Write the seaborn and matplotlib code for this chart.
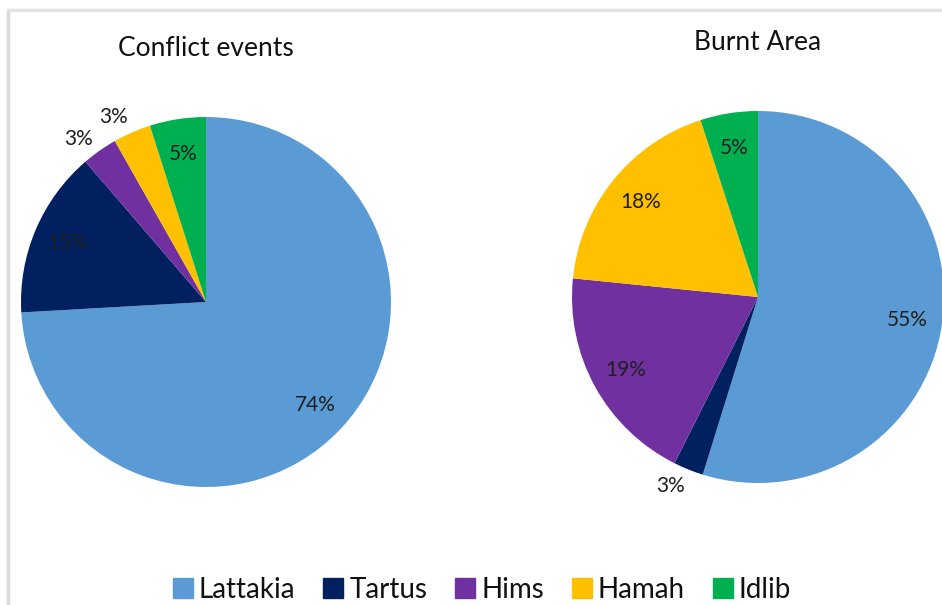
import numpy as np
import matplotlib
matplotlib.use("Agg")
import matplotlib.pyplot as plt
import seaborn as sns
from matplotlib.patches import Patch
from matplotlib.lines import Line2D

categories = ["Lattakia", "Tartus", "Hims", "Hamah", "Idlib"]
conflict_values = [74.1, 14.6, 3.1, 3.3, 4.9]
burnt_values = [54.8, 2.6, 19.2, 18.4, 5.0]
colors = ["#5B9BD5", "#002060", "#7030A0", "#FFC000", "#00B050"]
titles = ["Conflict events", "Burnt Area"]

sns.set_theme(style="white")
plt.rcParams['font.family'] = ['Lato', 'DejaVu Sans']

W, H = 942, 605
fig = plt.figure(figsize=(W / 100, H / 100), dpi=100)
fig.patch.set_facecolor("white")

# faint outer frame
fig.add_artist(Line2D([8 / W, 8 / W], [0, 1 - 10 / H], transform=fig.transFigure, color="#d9d9d9", lw=2.5))
fig.add_artist(Line2D([8 / W, 1], [1 - 10 / H, 1 - 10 / H], transform=fig.transFigure, color="#e3e3e3", lw=2.5))


def make_pie(cx, cy, r, values, title, tx, ty, out_shift):
    ax = fig.add_axes([(cx - r) / W, (H - cy - r) / H, 2 * r / W, 2 * r / H])
    wedges, texts, autotexts = ax.pie(values, colors=colors, startangle=90, counterclock=False,
                                      radius=1, autopct="%.0f%%", pctdistance=0.81,
                                      textprops=dict(fontsize=15, color="#1f1f1f"),
                                      wedgeprops=dict(linewidth=0))
    total = sum(values)
    cum = 0
    for v, t in zip(values, autotexts):
        mid = (cum + v / 2) / total * 360
        cum += v
        if v < 4:
            ang = np.deg2rad(90 - mid + out_shift)
            t.set_position((1.12 * np.cos(ang), 1.12 * np.sin(ang)))
    ax.set_xlim(-1, 1)
    ax.set_ylim(-1, 1)
    ax.set_aspect("equal")
    ax.axis("off")
    for t in texts + autotexts:
        t.set_clip_on(False)
    fig.text(tx / W, 1 - ty / H, title, ha="center", va="center", fontsize=19, color="#111111")


make_pie(206, 302, 185, conflict_values, titles[0], 206, 48, 3)
make_pie(758, 297, 186, burnt_values, titles[1], 758, 43, -3)

handles = [Patch(facecolor=c, edgecolor=c, label=l) for c, l in zip(colors, categories)]
fig.legend(handles=handles, loc="center", bbox_to_anchor=(482 / W, 1 - 590 / H), ncol=5,
           frameon=False, fontsize=20, handlelength=0.72, handleheight=0.72,
           handletextpad=0.22, columnspacing=1.0, labelcolor="#111111",
           borderpad=0, borderaxespad=0)

fig.savefig("out.png", dpi=100, facecolor="white")
